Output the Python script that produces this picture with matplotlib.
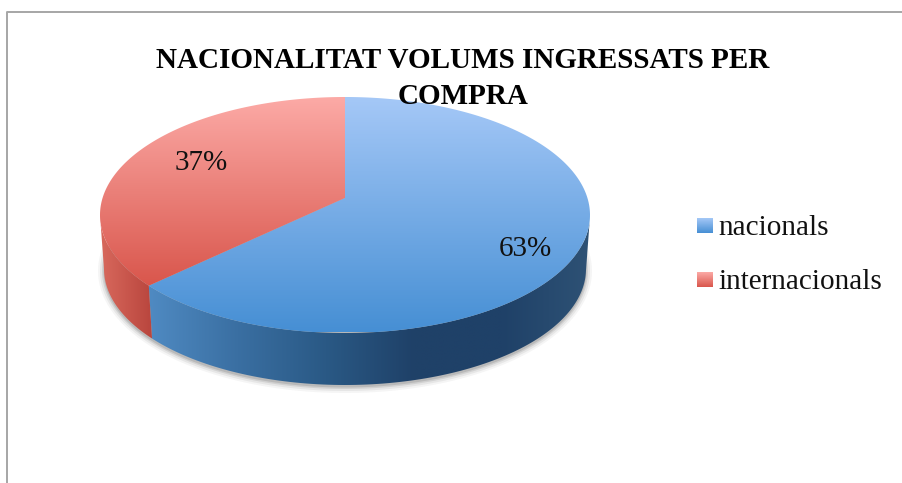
from matplotlib import pyplot as plt
from matplotlib.colors import LinearSegmentedColormap
from matplotlib.patches import Polygon
import numpy as np

plt.rcParams['font.family'] = ['Liberation Serif', 'DejaVu Serif']

title_lines = ["NACIONALITAT VOLUMS INGRESSATS PER", "COMPRA"]
categories = ["nacionals", "internacionals"]
values = [63, 37]
label_pos = [(525, 249), (201, 163)]

top_colors = [["#a5c8f7", "#468fd4"], ["#fcaaa6", "#d9564c"]]
top_spans = [(97, 332), (97, 286)]
side_colors = [["#4f8ac2", "#3a6fa2", "#2a5985", "#1f4168", "#1f4168", "#2e5275"],
               ["#d8695d", "#c9574d", "#b8453d"]]

# pie geometry in pixels
cx, cy, rx, ry = 345, 215, 245, 118
bx, by, brx, bry = 345, 269, 241, 116
persp = 0.145   # the pie centre sits above the centre of the ellipse


def project(theta):
    # theta clockwise from 12 o'clock, unit disc to perspective disc
    x = np.sin(theta)
    y = np.cos(theta)
    d = 1 + persp * y
    return x * np.sqrt(1 - persp ** 2) / d, (y + persp) / d


def gradient(ax, colors, extent, clip, horizontal=False, zorder=2):
    cmap = LinearSegmentedColormap.from_list("g", colors)
    g = np.linspace(0, 1, 256)
    g = g.reshape(1, -1) if horizontal else g.reshape(-1, 1)
    im = ax.imshow(g, cmap=cmap, extent=extent, aspect="auto", zorder=zorder,
                   origin="upper", interpolation="bilinear")
    if clip is not None:
        patch = Polygon(clip, closed=True, transform=ax.transData, fc="none", ec="none")
        ax.add_patch(patch)
        im.set_clip_path(patch)
    return im


fig = plt.figure(figsize=(9.03, 4.83), dpi=100)
ax = fig.add_axes([0, 0, 1, 1])

# soft shadow under the pie
t = np.linspace(0, 2 * np.pi, 300)
for grow, a in [(6, 0.05), (4, 0.08), (2, 0.12), (0.5, 0.16)]:
    ax.add_patch(Polygon(np.c_[bx + (brx + grow) * np.cos(t), by + 2 + (bry + grow) * np.sin(t)],
                         closed=True, fc="#404040", ec="none", alpha=a, zorder=1))

# slices clockwise from the top
edges = np.cumsum([0] + values) / sum(values) * 2 * np.pi
centre = (cx, cy - persp * ry)

for i in range(len(values)):
    th = np.linspace(edges[i], edges[i + 1], 200)
    px, py = project(th)
    top = np.c_[cx + rx * px, cy - ry * py]

    # side wall, only the part that faces the viewer
    vis = py <= 0.0
    if vis.any():
        upper = np.c_[cx + rx * px[vis], cy - ry * py[vis]]
        lower = np.c_[bx + brx * px[vis], by - bry * py[vis]]
        wall = np.vstack([upper, lower[::-1]])
        x0, x1 = wall[:, 0].min(), wall[:, 0].max()
        gradient(ax, side_colors[i], (x0, x1, by + bry, cy), wall, horizontal=True, zorder=2)

    poly = np.vstack([[centre], top])
    gradient(ax, top_colors[i], (cx - rx, cx + rx, top_spans[i][1], top_spans[i][0]), poly, zorder=3)

# value labels
for v, (lx, ly) in zip(values, label_pos):
    ax.text(lx, ly, "%d%%" % v, fontsize=21, color="#111111", ha="center", va="center", zorder=5)

# title over the pie
for line, ty in zip(title_lines, [60, 97]):
    ax.text(463, ty, line, fontsize=21, fontweight="bold", color="black",
            ha="center", va="center", zorder=6)

# legend
for i, (name, ly) in enumerate(zip(categories, [226, 280])):
    gradient(ax, top_colors[i], (697, 713, ly + 7, ly - 8), None, zorder=3)
    ax.text(718, ly + 2, name, fontsize=21, color="#111111", ha="left", va="center", zorder=5)

# chart frame, open at the bottom
ax.plot([7, 7, 903], [483, 12, 12], color="#a6a6a6", lw=1.4, zorder=1)

ax.set_xlim(0, 903)
ax.set_ylim(483, 0)
ax.axis("off")
fig.savefig("out.png", dpi=100)
